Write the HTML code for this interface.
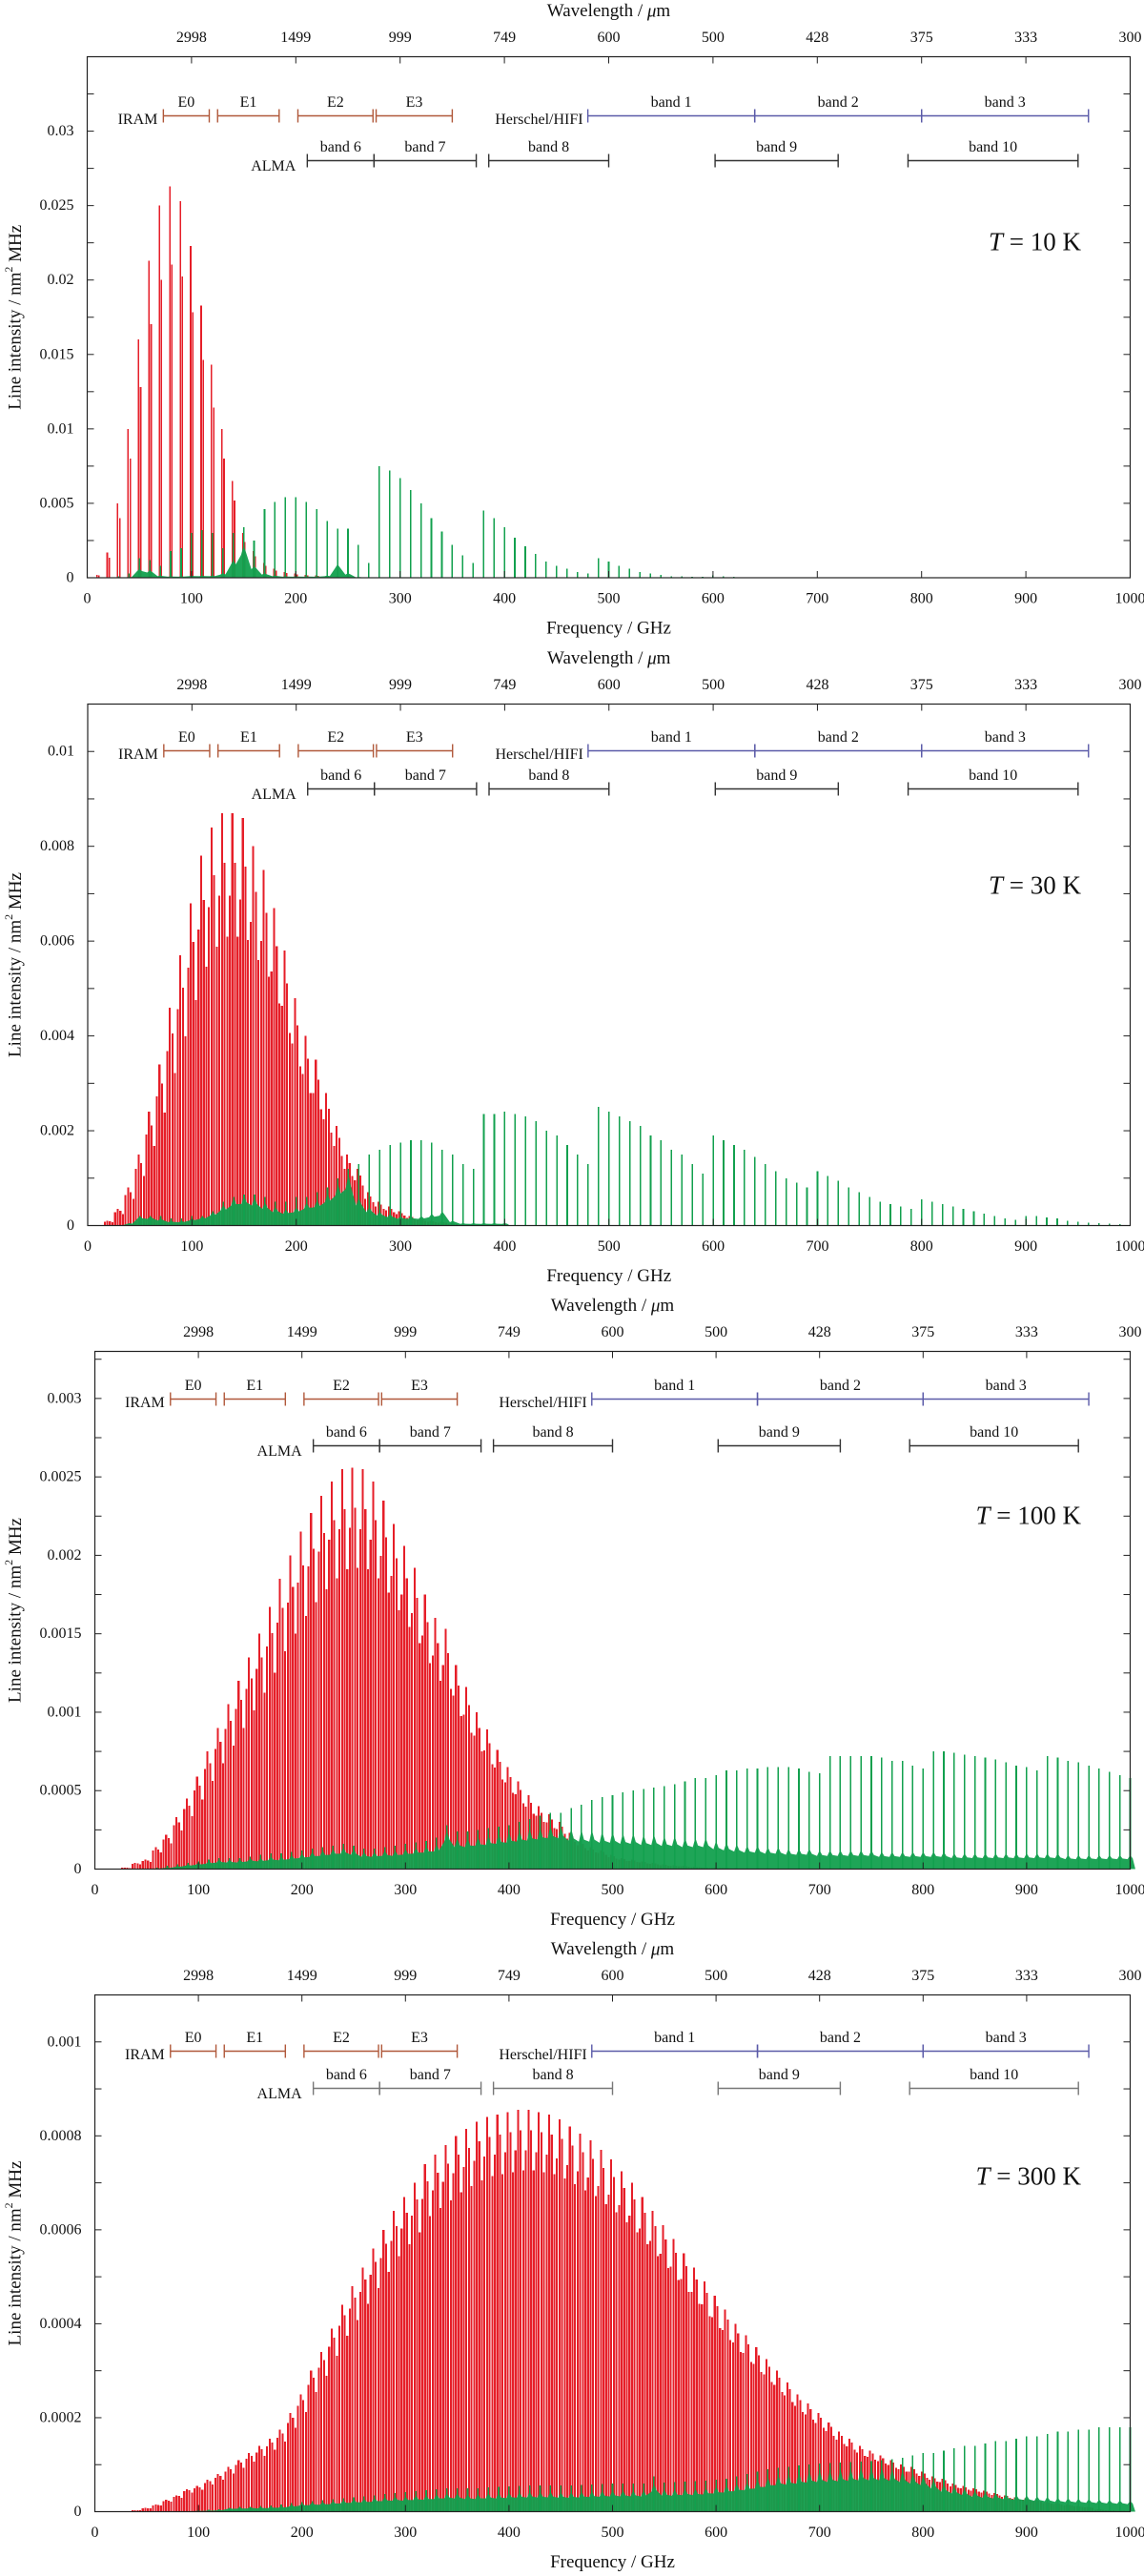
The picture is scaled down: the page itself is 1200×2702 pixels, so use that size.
<!DOCTYPE html>
<html><head><meta charset="utf-8">
<style>
html,body{margin:0;padding:0;background:#fff;}
svg{display:block;font-family:"Liberation Serif",serif;}
</style></head>
<body>
<svg id="chart" width="1200" height="2702" viewBox="0 0 1200 2702" xmlns="http://www.w3.org/2000/svg"></svg>
<script>
// ---- data (10 GHz bins, index i -> frequency 10*i GHz) ----
const binStep = 10;
const wavelengthTicks = ["2998","1499","999","749","600","500","428","375","333","300"];
const freqTicks = ["0","100","200","300","400","500","600","700","800","900","1000"];
const temps = ["10","30","100","300"];

// Panel 1, T=10 K (units 1e-3)
const red1 = [0,0.2,1.7,5.0,10.0,16.0,21.3,25.0,26.3,25.3,22.3,18.3,14.3,10.0,6.5,3.0,1.8,1.0,0.6,0.4,0.3,0.2,0.15,0.1,0.1,0.05];
const green1 = [0,0,0,0.1,0.3,1.3,1.2,0.8,1.8,2.0,3.0,3.2,3.0,2.0,3.0,3.4,2.5,4.6,5.1,5.4,5.4,5.1,4.6,3.8,3.3,3.3,2.2,1.0,7.5,7.2,6.7,5.9,5.0,4.0,3.1,2.2,1.5,1.0,4.5,4.0,3.4,2.7,2.1,1.6,1.1,0.8,0.6,0.4,0.3,1.3,1.1,0.8,0.6,0.4,0.3,0.2,0.1,0.1,0.05,0.05,0.15,0.1,0.05];
const grass1 = [0,0,0,0,0.05,0.6,0.5,0.15,0.1,0.1,0.15,0.15,0.15,0.3,1.2,2.2,0.8,0.3,0.15,0.1,0.1,0.1,0.1,0.15,0.9,0.3,0.05];
const yLabels1 = ["0","0.005","0.01","0.015","0.02","0.025","0.03"];

// Panel 2, T=30 K (units 1e-3)
const red2 = [0,0,0.1,0.35,0.8,1.5,2.4,3.4,4.6,5.7,6.8,7.8,8.4,8.7,8.7,8.6,8.0,7.5,6.7,5.8,4.8,4.0,3.5,2.8,2.1,1.5,1.2,0.7,0.5,0.4,0.3,0.2,0.15,0.1,0.08,0.05];
const green2 = [0,0,0,0,0.05,0.2,0.2,0.2,0.15,0.15,0.2,0.2,0.3,0.5,0.6,0.65,0.65,0.6,0.5,0.5,0.6,0.6,0.7,0.8,1.0,1.2,1.3,1.5,1.6,1.7,1.75,1.8,1.8,1.75,1.6,1.5,1.3,1.2,2.35,2.35,2.4,2.35,2.3,2.2,2.0,1.9,1.7,1.5,1.3,2.5,2.4,2.3,2.2,2.1,1.9,1.8,1.6,1.5,1.3,1.1,1.9,1.8,1.7,1.6,1.45,1.3,1.15,1.0,0.9,0.8,1.15,1.05,0.95,0.8,0.7,0.6,0.5,0.45,0.4,0.35,0.55,0.5,0.45,0.4,0.35,0.3,0.25,0.2,0.15,0.12,0.2,0.2,0.17,0.15,0.1,0.08,0.06,0.05,0.04,0.03,0];
const grass2 = [0,0,0,0,0.05,0.2,0.2,0.15,0.1,0.1,0.15,0.2,0.3,0.45,0.6,0.65,0.6,0.5,0.4,0.35,0.4,0.5,0.55,0.7,0.9,1.1,0.6,0.4,0.3,0.25,0.2,0.2,0.2,0.25,0.3,0.1,0.05,0.05,0.05,0.05,0.05];
const yLabels2 = ["0","0.002","0.004","0.006","0.008","0.01"];

// Panel 3, T=100 K (units 1e-4)
const red3 = [0,0,0,0.1,0.4,0.6,1.4,2.2,3.3,4.5,5.9,7.5,9.0,10.5,12.0,13.5,15.0,16.7,18.5,20.0,21.5,22.7,23.8,24.7,25.5,25.6,25.5,24.7,23.5,22.0,20.6,19.2,17.5,16.0,15.3,13.0,11.6,10.0,8.9,7.6,6.5,5.6,4.7,4.0,3.5,3.0,2.3,1.8,1.4,1.2,0.9,0.7,0.6,0.5,0.4,0.3,0.25,0.2,0.15,0.1,0.08,0.06,0.05,0.04,0.03,0.02,0.02,0.01];
const green3 = [0,0,0,0,0,0,0.1,0.2,0.3,0.4,0.5,0.6,0.7,0.7,0.7,0.8,0.9,1.0,1.0,1.1,1.2,1.3,1.4,1.5,1.6,1.5,1.3,1.3,1.4,1.5,1.6,1.7,1.8,2.0,2.8,2.4,2.4,2.5,2.6,2.7,2.8,3.0,3.2,3.4,3.6,3.6,3.9,4.1,4.4,4.6,4.7,4.9,5.0,5.1,5.2,5.3,5.4,5.6,5.8,5.8,6.0,6.3,6.3,6.4,6.4,6.5,6.5,6.5,6.4,6.2,6.1,7.2,7.2,7.2,7.2,7.2,7.1,6.9,6.9,6.6,6.4,7.5,7.5,7.4,7.3,7.2,7.1,7.0,6.8,6.6,6.5,6.3,7.2,7.1,6.9,6.8,6.6,6.4,6.2,6.0,5.8];
const grass3 = [0,0,0,0,0,0,0.05,0.1,0.2,0.3,0.4,0.5,0.6,0.6,0.6,0.7,0.7,0.8,0.8,0.9,1.0,1.1,1.2,1.3,1.4,1.3,1.1,1.1,1.2,1.2,1.3,1.4,1.5,1.6,2.5,2.0,2.0,2.1,2.2,2.3,2.4,2.5,2.6,2.7,2.8,2.8,2.6,2.5,2.5,2.4,2.4,2.3,2.3,2.2,2.2,2.1,2.1,2.0,2.0,2.0,1.8,1.7,1.6,1.5,1.5,1.4,1.4,1.3,1.3,1.3,1.2,1.2,1.2,1.2,1.2,1.2,1.1,1.1,1.1,1.1,1.1,1.1,1.1,1.0,1.0,1.0,1.0,1.0,1.0,1.0,1.0,1.0,1.0,1.0,0.9,0.9,0.9,0.9,0.9,0.9,0.9];
const yLabels3 = ["0","0.0005","0.001","0.0015","0.002","0.0025","0.003"];

// Panel 4, T=300 K (units 1e-5)
const red4 = [0,0,0,0,0.3,0.8,1.5,2.5,3.5,4.8,5.5,6.8,8,9.5,11,12.5,14,15.5,17.5,21,25,30,34,39,44,48,52,56,60,64,67,70,74,76,78,80,81.5,83,84,84.5,85,85.5,85.5,85,84.5,83.5,82,80.5,79,77,75,72.5,70,67,64,61,58,55,52,49,46,43,40,37.5,35,32.5,30,27.5,25,23,21,19,17,15.5,14,13,12,11,10,9.5,8.5,7.5,7,6,5.5,5,4.5,4,3.5,3,2.8,2.5,2,1.8,1.5,1.2,1,0.5,0.3,0.2,0.1];
const green4 = [0,0,0,0,0,0,0,0,0,0,0.3,0.4,0.5,0.8,1,1,1.2,1.3,1.5,1.8,2,2.2,2.4,2.6,2.8,3,3.2,3.5,3.8,4,4.2,4.4,4.6,4.8,5,5,5,5,5.2,5.3,5.4,5.5,5.6,5.6,5.6,5.6,5.6,5.7,5.8,5.9,6,6,6,6,7.5,6.2,6.3,6.4,6.5,6.6,6.8,7,7.5,8,8.5,9,9.3,9.5,9.8,10,10.2,10.4,10.5,10.6,10.7,10.8,11,11.2,11.5,12,12.5,12.5,13,13.5,14,14,14.5,15,15,15.5,16,16,16.5,17,17,17.5,17.5,18,18,18,18];
const grass4 = [0,0,0,0,0,0,0,0,0,0,0.2,0.3,0.4,0.8,0.9,1,1,1.1,1.2,1.5,1.8,2,2.1,2.3,2.5,2.7,2.8,3,3.2,3.3,3.3,3.5,3.6,3.8,4,4,3.8,3.8,4,4,4.1,4.2,4.3,4.3,4.3,4.2,4.2,4.3,4.4,4.5,4.6,4.6,4.6,4.6,6,4.8,4.8,5,5,5.2,5.5,5.8,6.2,6.5,7,7.5,8,8.2,8.5,8.8,9,9,9.2,9.3,9.5,9.5,9.5,9.3,9,8.5,8,7,6,5.5,5,4.5,4.2,4,3.8,3.6,3.5,3.3,3.2,3,2.9,2.8,2.7,2.6,2.5,2.4,2.3];
const yLabels4 = ["0","0.0002","0.0004","0.0006","0.0008","0.001"];

// ---- rendering ----
const NS = "http://www.w3.org/2000/svg";
const svg = document.getElementById('chart');
function mk(tag, attrs, parent){
  const e = document.createElementNS(NS, tag);
  for (const k in attrs) e.setAttribute(k, attrs[k]);
  (parent||svg).appendChild(e);
  return e;
}
function txt(s, x, y, anchor, size, parent, extra){
  const t = mk('text', Object.assign({x:x, y:y, 'text-anchor':anchor, 'font-size':size, 'dominant-baseline':'central', fill:'#111'}, extra||{}), parent);
  t.textContent = s;
  return t;
}

const panels = [
  {red:red1, green:green1, grass:grass1, unit:1e-3, ymax:0.035, lab:yLabels1, labStep:0.005, minor:0.0025, x0:91.5, top:59.5, bot:606, iram:62, alma:109, ty:194, sw:1.6, sticks:[[-0.8,1],[1.2,0.8]]},
  {red:red2, green:green2, grass:grass2, unit:1e-3, ymax:0.011, lab:yLabels2, labStep:0.002, minor:0.001, x0:92, top:738.5, bot:1285.5, iram:49, alma:89, ty:190, sw:2.1, sticks:[[-3.7,0.8],[-1.2,1],[1.3,0.88],[3.8,0.7]]},
  {red:red3, green:green3, grass:grass3, unit:1e-4, ymax:0.0033, lab:yLabels3, labStep:0.0005, minor:0.00025, x0:99.5, top:1417.5, bot:1960.5, iram:50, alma:99, ty:172, sw:2.1, sticks:[[-3.7,0.85],[-1.2,1],[1.3,0.9],[3.8,0.75]]},
  {red:red4, green:green4, grass:grass4, unit:1e-5, ymax:0.0011, lab:yLabels4, labStep:0.0002, minor:0.0001, x0:99.5, top:2092.5, bot:2634.5, iram:59, alma:98, ty:190, sw:2.1, sticks:[[-3.7,0.9],[-1.2,1],[1.3,0.95],[3.8,0.85]]}
];
const X1 = 1185.5;
const iramBands = [["E0",73,117],["E1",125,184],["E2",202,274],["E3",277,350]];
const hifiBands = [["band 1",480,640],["band 2",640,800],["band 3",800,960]];
const almaBands = [["band 6",211,275],["band 7",275,373],["band 8",385,500],["band 9",602,720],["band 10",787,950]];

panels.forEach((p, pi) => {
  const g = mk('g', {});
  
  
  const xs = f => p.x0 + (X1 - p.x0) * f / 1000;
  const ys = v => p.bot - (p.bot - p.top) * v / p.ymax;

  // red lines
  const gr = mk('g', {stroke:'#e61e28', 'stroke-width':p.sw, 'shape-rendering':'crispEdges'}, g);
  
  
  p.red.forEach((v, i) => {
    if (v <= 0) return;
    const f = i * binStep;
    p.sticks.forEach(s => {
      const ln = mk('line', {x1:xs(f+s[0]), x2:xs(f+s[0]), y1:p.bot, y2:ys(v*p.unit*s[1])}, gr);
      
      
    });
  });
  // green grass (dense weak lines) as area
  let d = 'M' + xs(0) + ' ' + p.bot;
  p.grass.forEach((v, i) => {
    const f = i * binStep;
    d += ' L' + xs(f - 2.5).toFixed(1) + ' ' + ys(v*p.unit*0.7).toFixed(1) + ' L' + xs(f).toFixed(1) + ' ' + ys(v*p.unit).toFixed(1) + ' L' + xs(f + 2.5).toFixed(1) + ' ' + ys(v*p.unit*0.75).toFixed(1);
  });
  d += ' L' + xs((p.grass.length-1)*binStep + 5) + ' ' + p.bot + ' Z';
  const ga = mk('path', {d:d, fill:'#12a04e', 'fill-opacity':0.95}, g);
  
  
  // green spikes
  const gg = mk('g', {stroke:'#12a04e', 'stroke-width':1.6, 'shape-rendering':'crispEdges'}, g);
  
  
  p.green.forEach((v, i) => {
    if (v <= 0) return;
    const f = i * binStep;
    const ln = mk('line', {x1:xs(f), x2:xs(f), y1:p.bot, y2:ys(v*p.unit)}, gg);
    
    
  });

  // frame
  const fr = mk('rect', {x:p.x0, y:p.top, width:X1-p.x0, height:p.bot-p.top, fill:'none', stroke:'#222', 'stroke-width':1.2}, g);
  
  

  // ticks
  const tk = mk('g', {stroke:'#222', 'stroke-width':1}, g);
  
  
  for (let f = 100; f < 1000; f += 100) {
    mk('line', {x1:xs(f), x2:xs(f), y1:p.bot, y2:p.bot-7}, tk);
    mk('line', {x1:xs(f), x2:xs(f), y1:p.top, y2:p.top+7}, tk);
  }
  for (let v = p.minor; v < p.ymax - 1e-9; v += p.minor) {
    mk('line', {x1:p.x0, x2:p.x0+7, y1:ys(v), y2:ys(v)}, tk);
    mk('line', {x1:X1, x2:X1-7, y1:ys(v), y2:ys(v)}, tk);
  }
  // y labels
  p.lab.forEach((s, i) => {
    const t = txt(s, p.x0 - 14, ys(i*p.labStep), 'end', 16, g);
    
    
  });
  freqTicks.forEach((s, i) => {
    const t = txt(s, xs(i*100), p.bot + 22, 'middle', 16, g);
    
    
  });
  wavelengthTicks.forEach((s, i) => {
    const t = txt(s, xs((i+1)*100), p.top - 20, 'middle', 16, g);
    
    
  });
  const xt = txt('Frequency / GHz', (p.x0+X1)/2, p.bot + 53, 'middle', 19, g);
  
  
  const wt = mk('text', {x:(p.x0+X1)/2, y:p.top-48, 'text-anchor':'middle', 'font-size':19, 'dominant-baseline':'central', fill:'#111'}, g);
  wt.innerHTML = 'Wavelength / <tspan font-style="italic">μ</tspan>m';
  
  
  const cy = (p.top + p.bot) / 2;
  const yt = mk('text', {x:16, y:cy, 'text-anchor':'middle', 'font-size':19, 'dominant-baseline':'central', fill:'#111', transform:'rotate(-90 16 '+cy+')'}, g);
  yt.innerHTML = 'Line intensity / nm<tspan dy="-7" font-size="12">2</tspan><tspan dy="7"> MHz</tspan>';
  
  

  // temperature label
  const tl = mk('text', {x:1134, y:p.top + p.ty, 'text-anchor':'end', 'font-size':27, 'dominant-baseline':'central', fill:'#111'}, g);
  tl.innerHTML = '<tspan font-style="italic">T</tspan> = ' + temps[pi] + ' K';
  
  

  // receiver band bars
  function bar(list, yy, color, name){
    list.forEach(b => {
      const bg = mk('g', {stroke:color, 'stroke-width':1.4}, g);
      
      
      mk('line', {x1:xs(b[1]), x2:xs(b[2]), y1:yy, y2:yy}, bg);
      mk('line', {x1:xs(b[1]), x2:xs(b[1]), y1:yy-7, y2:yy+7}, bg);
      mk('line', {x1:xs(b[2]), x2:xs(b[2]), y1:yy-7, y2:yy+7}, bg);
      const t = txt(b[0], xs((b[1]+b[2])/2), yy-14, 'middle', 16, g);
      
      
    });
  }
  const iy = p.top + p.iram, ay = p.top + p.alma;
  bar(iramBands, iy, '#b0583a', 'iram');
  bar(hifiBands, iy, '#5a5aa8', 'hifi');
  bar(almaBands, ay, pi === 3 ? '#777' : '#333', 'alma');
  const l1 = txt('IRAM', xs(73) - 6, iy + 4, 'end', 16, g);
  
  
  const l2 = txt('Herschel/HIFI', xs(480) - 5, iy + 4, 'end', 16, g);
  
  
  const l3 = txt('ALMA', xs(211) - 12, ay + 6, 'end', 16, g);
  
  
});
</script>
</body></html>
